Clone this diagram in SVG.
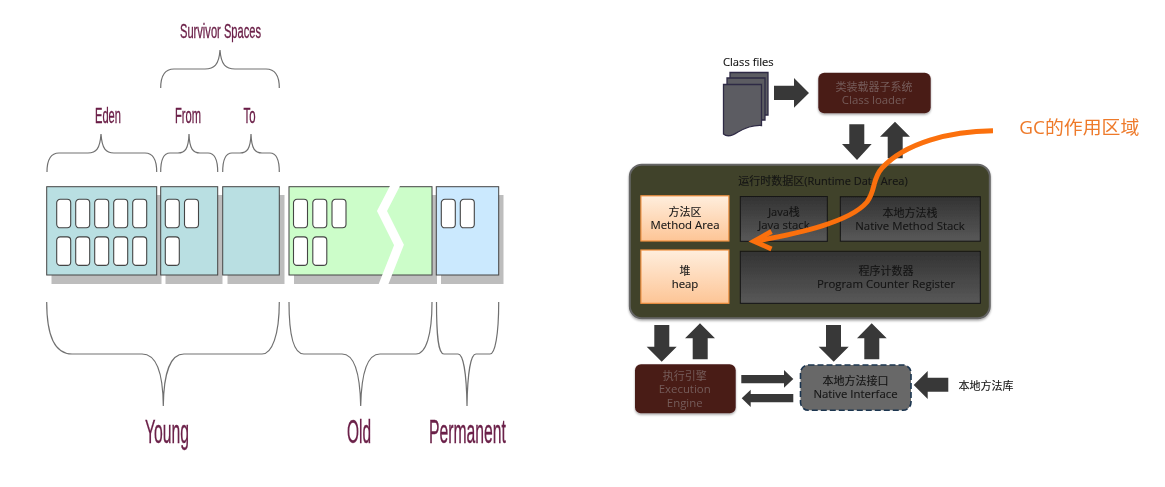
<svg xmlns="http://www.w3.org/2000/svg" width="1165" height="487" viewBox="0 0 1165 487">
<style>
.lbl{font-family:"Liberation Sans",Arial,sans-serif;fill:#6b2048;stroke:#6b2048;stroke-width:.35;text-anchor:start}
.t{font-family:"Open Sans","Noto Sans CJK SC",sans-serif;font-size:11.4px;text-anchor:middle;fill:#151515;stroke:#151515;stroke-width:.12}
.z{font-size:11px}
.m{fill:#755c5a;stroke:none}
.cell{fill:#fff;stroke:#444;stroke-width:1.1}
.reg{stroke:#444;stroke-width:1}
.sh{fill:#bdbdbd}
.br{fill:none;stroke:#707070;stroke-width:1.2}
.ar{fill:#383838}
.dk{fill:url(#dk);stroke:#141414;stroke-width:1}
.or{fill:url(#or);stroke:#f0903f;stroke-width:1.2}
.rd{fill:#4a1a18}
</style>
<defs>
<filter id="b" x="-5%" y="-5%" width="110%" height="110%"><feGaussianBlur stdDeviation="0.35"/></filter>
<filter id="s" x="-10%" y="-10%" width="120%" height="125%"><feDropShadow dx="0" dy="1.5" stdDeviation="1.2" flood-color="#000" flood-opacity="0.35"/></filter>
<linearGradient id="dk" x1="0" y1="0" x2="0" y2="1"><stop offset="0" stop-color="#333"/><stop offset="1" stop-color="#585858"/></linearGradient>
<linearGradient id="or" x1="0" y1="0" x2="0" y2="1"><stop offset="0" stop-color="#ffeedd"/><stop offset="1" stop-color="#fdc596"/></linearGradient>
<g id="c"><rect width="14" height="28.5" rx="3.5" class="cell"/></g>
</defs>
<rect width="1165" height="487" fill="#fff"/>
<g filter="url(#b)">
<g id="eden">
<rect x="51.5" y="195" width="110" height="89" class="sh"/>
<rect x="46.7" y="186.7" width="110" height="88.3" fill="#b9dfe2" class="reg"/>
<use href="#c" x="56.7" y="199.3"/><use href="#c" x="75.7" y="199.3"/><use href="#c" x="94.7" y="199.3"/><use href="#c" x="113.7" y="199.3"/><use href="#c" x="132.7" y="199.3"/>
<use href="#c" x="56.7" y="236.9"/><use href="#c" x="75.7" y="236.9"/><use href="#c" x="94.7" y="236.9"/><use href="#c" x="113.7" y="236.9"/><use href="#c" x="132.7" y="236.9"/>
</g>
<g id="from">
<rect x="165.5" y="195" width="57" height="89" class="sh"/>
<rect x="160.7" y="186.7" width="57" height="88.3" fill="#b9dfe2" class="reg"/>
<use href="#c" x="165.3" y="199.3"/><use href="#c" x="184.5" y="199.3"/><use href="#c" x="165.3" y="236.9"/>
</g>
<g id="to">
<rect x="227.5" y="195" width="57" height="89" class="sh"/>
<rect x="222.7" y="186.7" width="56.6" height="88.3" fill="#b9dfe2" class="reg"/>
</g>
<g id="old">
<rect x="294" y="195" width="143" height="89" class="sh"/>
<rect x="289" y="186.7" width="143" height="88.3" fill="#ccfdc9" class="reg"/>
<use href="#c" x="293.5" y="199.3"/><use href="#c" x="312.8" y="199.3"/><use href="#c" x="332" y="199.3"/>
<use href="#c" x="293.5" y="236.9"/><use href="#c" x="312.8" y="236.9"/>
<polyline points="397,182 382,211 399,245 382,288" fill="none" stroke="#fff" stroke-width="9"/>
</g>
<g id="permanent">
<rect x="441" y="195" width="62.5" height="89" class="sh"/>
<rect x="436.3" y="186.7" width="62.4" height="88.3" fill="#cbe9fe" class="reg"/>
<use href="#c" x="441.3" y="199.3"/><use href="#c" x="460.3" y="199.3"/>
</g>
<g id="braces">
<path class="br" d="M47 172C47 160 50 153 59 153H88C96 153 100 149 101 134C102 149 106 153 114 153H145C153 153 156.7 160 156.7 172"/>
<path class="br" d="M160.7 172C160.7 160 163 153 170 153H178C185 153 188.5 149 189 134C189.5 149 193 153 200 153H208C215 153 217.7 160 217.7 172"/>
<path class="br" d="M222.7 172C222.7 160 225 153 232 153H240C247 153 250.5 149 251 134C251.5 149 255 153 262 153H270C277 153 279.3 160 279.3 172"/>
<path class="br" d="M160.7 88C160.7 76 164 69 174 69H205C214 69 219 65 220 50C221 65 226 69 235 69H266C276 69 279.3 76 279.3 88"/>
<path class="br" d="M46.7 302C46.7 335 54 354 72 354H142C156 354 163 372 163.3 406C163.6 372 171 354 184 354H262C272 354 279.3 335 279.3 302"/>
<path class="br" d="M289 302C289 335 294 354 304 354H342C354 354 360 372 360.7 406C361.4 372 367 354 380 354H416C426 354 432 335 432 302"/>
<path class="br" d="M436.5 302C436.5 335 438 354 444 354H458C463 354 466.5 372 467 406C467.5 372 471 354 476 354H490C495 354 498.7 335 498.7 302"/>
</g>
<g id="labels">
<text class="lbl" x="180" y="38" font-size="21" textLength="81" lengthAdjust="spacingAndGlyphs">Survivor Spaces</text>
<text class="lbl" x="95" y="122.5" font-size="22" textLength="26" lengthAdjust="spacingAndGlyphs">Eden</text>
<text class="lbl" x="175" y="122.5" font-size="22" textLength="26" lengthAdjust="spacingAndGlyphs">From</text>
<text class="lbl" x="243.5" y="122.5" font-size="22" textLength="12" lengthAdjust="spacingAndGlyphs">To</text>
<text class="lbl" x="145" y="443" font-size="33" textLength="44" lengthAdjust="spacingAndGlyphs">Young</text>
<text class="lbl" x="347" y="443" font-size="33" textLength="24" lengthAdjust="spacingAndGlyphs">Old</text>
<text class="lbl" x="429" y="443" font-size="33" textLength="77" lengthAdjust="spacingAndGlyphs">Permanent</text>
</g>
<g id="connectors">
<polygon class="ar" points="774,85.7 794,85.7 794,78 809,93 794,107.7 794,100 774,100"/>
<polygon class="ar" points="849.3,124.3 864.3,124.3 864.3,144 871.7,144 857,160 842,144 849.3,144"/>
<polygon class="ar" points="895,121.7 910,136.7 902.7,136.7 902.7,158.3 887.7,158.3 887.7,136.7 880,136.7"/>
<polygon class="ar" points="654.3,325 669.3,325 669.3,346.7 676.7,346.7 661.7,361.7 646.7,346.7 654.3,346.7"/>
<polygon class="ar" points="700,323.3 715,338.3 707.7,338.3 707.7,359.3 692.7,359.3 692.7,338.3 685,338.3"/>
<polygon class="ar" points="826,325 841,325 841,346.7 848.7,346.7 833.7,361.7 818.7,346.7 826,346.7"/>
<polygon class="ar" points="871.7,323.3 886.7,338.3 879.3,338.3 879.3,359.3 864.3,359.3 864.3,338.3 857,338.3"/>
<polygon class="ar" points="741.3,375 784,375 784,370 793.3,379 784,387.7 784,383.3 741.3,383.3"/>
<polygon class="ar" points="741.7,398.3 750.7,389.7 750.7,394 793.3,394 793.3,402.3 750.7,402.3 750.7,407"/>
<polygon class="ar" points="913.7,385 927.7,371 927.7,377.7 948.3,377.7 948.3,391.7 927.7,391.7 927.7,399"/>
</g>
<g id="class-files">
<text x="723" y="66" font-family="'Open Sans',sans-serif" font-size="11.2" fill="#111" stroke="#111" stroke-width=".12">Class files</text>
<g fill="#5c5c62" stroke="#2e2a45" stroke-width="1.3">
<path d="M730 72.5H768V115H730Z"/>
<path d="M727 78H765V120H727Z"/>
<path d="M723.5 84.5H761.5V125.5C752 125 745 128 738 132C732 136 727 137 723.5 134Z"/>
</g>
</g>
<g id="class-loader">
<rect x="818.3" y="72.7" width="112.4" height="40.6" rx="6" class="rd" filter="url(#s)"/>
<text class="t z m" x="874" y="91.2">类装载器子系统</text>
<text class="t m" x="874" y="104.3">Class loader</text>
</g>
<g id="runtime-area">
<rect x="629.8" y="164.8" width="360" height="153.4" rx="12" fill="#3f4229" stroke="#666" stroke-width="2" filter="url(#s)"/>
<text class="t" x="823" y="185" style="font-size:11px">运行时数据区(Runtime Data Area)</text>
</g>
<g id="method-area">
<rect x="640.9" y="195.8" width="88" height="45.2" class="or"/>
<text class="t z" x="685" y="216">方法区</text>
<text class="t" x="685" y="229.1">Method Area</text>
</g>
<g id="heap">
<rect x="640.9" y="250" width="88" height="53.3" class="or"/>
<text class="t z" x="685" y="275">堆</text>
<text class="t" x="685" y="287.7">heap</text>
</g>
<g id="java-stack">
<rect x="740.3" y="196.5" width="87" height="44.8" class="dk"/>
<text class="t z" x="784" y="216">Java栈</text>
<text class="t" x="784" y="229.1">Java stack</text>
</g>
<g id="native-method-stack">
<rect x="840.3" y="196.7" width="140" height="44.5" class="dk"/>
<text class="t z" x="910" y="216.8">本地方法栈</text>
<text class="t" x="910" y="229.8">Native Method Stack</text>
</g>
<g id="program-counter">
<rect x="740.3" y="251.3" width="240" height="52" class="dk"/>
<text class="t z" x="886" y="274.8">程序计数器</text>
<text class="t" x="886" y="287.8">Program Counter Register</text>
</g>
<g id="execution-engine">
<rect x="635" y="364.3" width="100.7" height="49" rx="6" class="rd" filter="url(#s)"/>
<text class="t z m" x="684.7" y="380.1">执行引擎</text>
<text class="t m" x="684.7" y="393.2">Execution</text>
<text class="t m" x="684.7" y="406.5">Engine</text>
</g>
<g id="native-interface">
<rect x="800.5" y="365" width="110.5" height="45.3" rx="8" fill="#686868" stroke="#1d3650" stroke-width="1.6" stroke-dasharray="6 3"/>
<text class="t z" x="855.5" y="384.8">本地方法接口</text>
<text class="t" x="855.5" y="397.8">Native Interface</text>
</g>
<g id="native-library">
<text class="t z" x="986" y="389.7">本地方法库</text>
</g>
<g id="gc-arrow" fill="none" stroke="#fb6f0a" stroke-width="5">
<path d="M993 130.7C950 131 905 143 882 168C872 179 876 190 867 202C850 222 800 233 754 241.5"/>
<path d="M771.5 231.5L754 241.2L771.5 249"/>
</g>
<g id="gc-label">
<text x="1019.3" y="134" font-family="'Open Sans','Noto Sans CJK SC',sans-serif" font-size="18" fill="#ee7a2a" textLength="120" lengthAdjust="spacingAndGlyphs">GC的作用区域</text>
</g>
</g>
</svg>
